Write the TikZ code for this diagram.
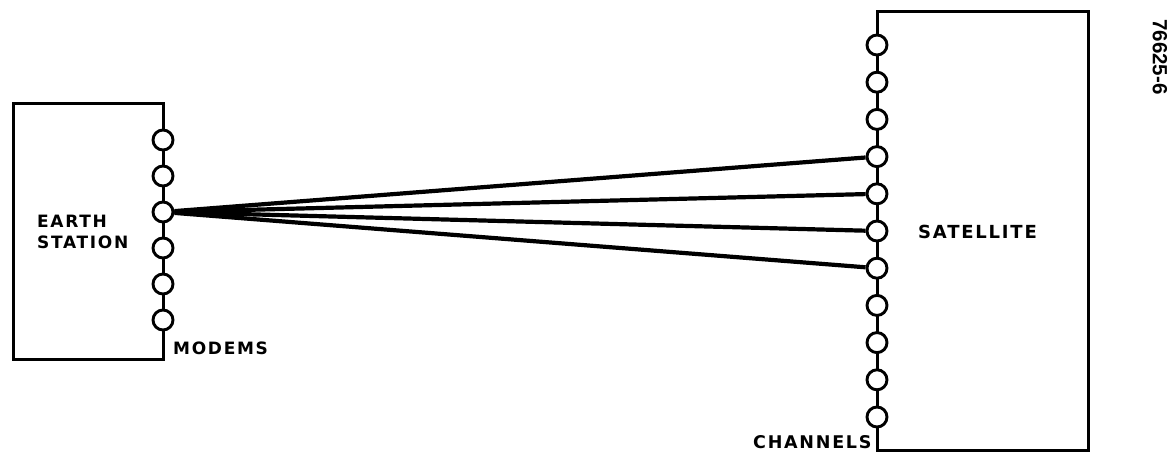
\documentclass[tikz,border=0pt]{standalone}
\usepackage{fontspec}
\setmainfont{DejaVu Sans}
\newfontfamily\lblfont[LetterSpace=10]{DejaVu Sans Bold}
\newfontfamily\numfont{Liberation Sans Bold}
\begin{document}
\begin{tikzpicture}[x=1pt,y=-1pt,
  port/.style={circle,draw,fill=white,line width=2.9pt,minimum size=20pt,inner sep=0pt},
  boxline/.style={draw,line width=3pt},
  link/.style={line width=4.2pt},
  lbl/.style={inner sep=0pt,font=\lblfont\fontsize{17}{19}\selectfont}]
\useasboundingbox (0,0) rectangle (1171,452);
% boxes
\draw[boxline] (13,104) rectangle (163,359);
\draw[boxline] (877,12) rectangle (1088,450);
% earth ports
\foreach \i in {1,...,6}{
  \node[port] (e\i) at (163,{140+36*(\i-1)}) {};
}
% satellite ports
\foreach \i in {1,...,11}{
  \node[port] (s\i) at (877,{45+37.2*(\i-1)}) {};
}
% links
\foreach \j in {4,...,7}{
  \draw[link] (e3) -- (s\j);
}
% labels
\node[lbl,anchor=base west] (earthlbl) at (37,227) {EARTH};
\node[lbl,anchor=base west] (stationlbl) at (37,248) {STATION};
\node[lbl,anchor=base west] (modems) at (173,354) {MODEMS};
\node[lbl,anchor=base west,font=\lblfont\fontsize{18}{20}\selectfont] (satlbl) at (918,238) {SATELLITE};
\node[lbl,anchor=base west,font=\lblfont\fontsize{17.5}{19}\selectfont] (channels) at (753,448) {CHANNELS};
\node[inner sep=0pt,rotate=-90,font=\numfont\fontsize{20.5}{22}\selectfont] (figno) at (1160,57) {76625-6};
\end{tikzpicture}
\end{document}
